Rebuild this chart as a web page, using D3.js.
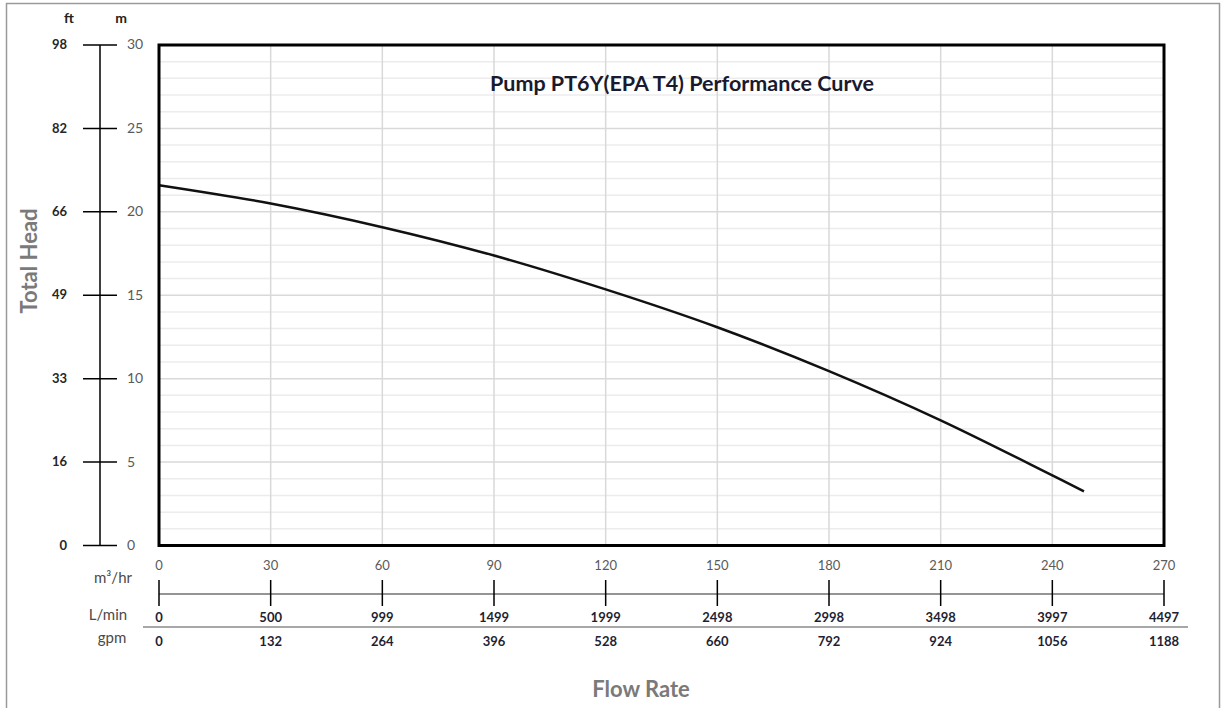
<!DOCTYPE html>
<html>
<head>
<meta charset="utf-8">
<script src="https://cdn.jsdelivr.net/npm/d3@7"></script>
<style>
  body { margin: 0; background: #fff; }
  svg text { font-family: Lato, "Open Sans", sans-serif; }
</style>
</head>
<body>
<div id="container"></div>
<script>
// data
var flowM3h = [0, 30, 60, 90, 120, 150, 180, 210, 240, 248.5];
var headM = [21.6, 20.5, 19.08, 17.38, 15.35, 13.08, 10.45, 7.5, 4.2, 3.25];

var flowTicks = [0, 30, 60, 90, 120, 150, 180, 210, 240, 270];
var lminLabels = ["0", "500", "999", "1499", "1999", "2498", "2998", "3498", "3997", "4497"];
var gpmLabels = ["0", "132", "264", "396", "528", "660", "792", "924", "1056", "1188"];

var headTicks = [0, 5, 10, 15, 20, 25, 30];
var ftLabels = ["0", "16", "33", "49", "66", "82", "98"];

var totalWidth = 1221,
    totalHeight = 708,
    plot = {left: 159, right: 1164, top: 45, bottom: 545.5};

var xScale = d3.scaleLinear().domain([0, 270]).range([plot.left, plot.right]);
var yScale = d3.scaleLinear().domain([0, 30]).range([plot.bottom, plot.top]);

var svg = d3.select("#container")
            .append("svg")
            .attr("width", totalWidth)
            .attr("height", totalHeight);

// outer frame
svg.append("rect")
   .attr("x", 6.5).attr("y", 3.5)
   .attr("width", 1213).attr("height", 720)
   .attr("fill", "none").attr("stroke", "#9a9a9a").attr("stroke-width", 1.5);

// grid
var grid = svg.append("g").attr("class", "grid");
grid.selectAll(".hminor")
    .data(d3.range(1, 30))
    .enter().append("line")
    .attr("x1", plot.left).attr("x2", plot.right)
    .attr("y1", function(d) { return yScale(d); })
    .attr("y2", function(d) { return yScale(d); })
    .attr("stroke", function(d) { return d % 5 === 0 ? "#d9d9d9" : "#ececec"; })
    .attr("stroke-width", 1.5);
grid.selectAll(".vgrid")
    .data(flowTicks.slice(1, -1))
    .enter().append("line")
    .attr("x1", function(d) { return xScale(d); })
    .attr("x2", function(d) { return xScale(d); })
    .attr("y1", plot.top).attr("y2", plot.bottom)
    .attr("stroke", "#d9d9d9").attr("stroke-width", 1.5);

// performance curve
var line = d3.line()
             .x(function(d) { return xScale(d[0]); })
             .y(function(d) { return yScale(d[1]); })
             .curve(d3.curveCatmullRom);
svg.append("path")
   .datum(d3.zip(flowM3h, headM))
   .attr("d", line)
   .attr("fill", "none")
   .attr("stroke", "#111")
   .attr("stroke-width", 2.5);

// plot frame
svg.append("rect")
   .attr("x", plot.left).attr("y", plot.top)
   .attr("width", plot.right - plot.left)
   .attr("height", plot.bottom - plot.top)
   .attr("fill", "none").attr("stroke", "#000").attr("stroke-width", 3);

// title
svg.append("text")
   .attr("x", 682).attr("y", 91)
   .attr("text-anchor", "middle")
   .attr("font-size", 21.5).attr("font-weight", "bold")
   .attr("fill", "#1a1a2e")
   .text("Pump PT6Y(EPA T4) Performance Curve");

// left head axis (ft | m)
var leftAxis = svg.append("g").attr("class", "head-axis");
leftAxis.append("line")
        .attr("x1", 100).attr("x2", 100)
        .attr("y1", yScale(30)).attr("y2", yScale(0))
        .attr("stroke", "#000").attr("stroke-width", 1.5);
var hTick = leftAxis.selectAll(".tick")
        .data(headTicks).enter()
        .append("g").attr("class", "tick")
        .attr("transform", function(d) { return "translate(0," + yScale(d) + ")"; });
hTick.append("line")
     .attr("x1", 83).attr("x2", 117)
     .attr("stroke", "#000").attr("stroke-width", 1.5);
hTick.append("text")
     .attr("x", 127).attr("dy", "0.32em")
     .attr("font-size", 14).attr("fill", "#5a5a5a")
     .text(function(d) { return d; });
hTick.append("text")
     .attr("x", 67).attr("dy", "0.32em")
     .attr("text-anchor", "end")
     .attr("font-size", 13).attr("font-weight", "bold").attr("fill", "#262626")
     .text(function(d, i) { return ftLabels[i]; });
leftAxis.append("text")
        .attr("x", 69).attr("y", 23).attr("text-anchor", "middle")
        .attr("font-size", 14).attr("font-weight", "bold").attr("fill", "#222")
        .text("ft");
leftAxis.append("text")
        .attr("x", 121).attr("y", 23).attr("text-anchor", "middle")
        .attr("font-size", 14).attr("font-weight", "bold").attr("fill", "#222")
        .text("m");
leftAxis.append("text")
        .attr("transform", "translate(37," + 261 + ") rotate(-90)")
        .attr("text-anchor", "middle")
        .attr("font-size", 22).attr("font-weight", "bold").attr("fill", "#7a7a7a")
        .text("Total Head");

// bottom flow axes
var bottom = svg.append("g").attr("class", "flow-axis");
bottom.append("line")
      .attr("x1", xScale(0)).attr("x2", xScale(270))
      .attr("y1", 594).attr("y2", 594)
      .attr("stroke", "#707070").attr("stroke-width", 1.5);
bottom.append("line")
      .attr("x1", 143).attr("x2", 1188)
      .attr("y1", 627).attr("y2", 627)
      .attr("stroke", "#8a8a8a").attr("stroke-width", 1.5);
var fTick = bottom.selectAll(".tick")
      .data(flowTicks).enter()
      .append("g").attr("class", "tick")
      .attr("transform", function(d) { return "translate(" + xScale(d) + ",0)"; });
fTick.append("line")
     .attr("y1", 580).attr("y2", 606)
     .attr("stroke", "#000").attr("stroke-width", 1.5);
fTick.append("text")
     .attr("y", 570).attr("text-anchor", "middle")
     .attr("font-size", 13).attr("fill", "#5a5a5a")
     .text(function(d) { return d; });
fTick.append("text")
     .attr("y", 622).attr("text-anchor", "middle")
     .attr("font-size", 13).attr("font-weight", "bold").attr("fill", "#1f1f33")
     .text(function(d, i) { return lminLabels[i]; });
fTick.append("text")
     .attr("y", 646).attr("text-anchor", "middle")
     .attr("font-size", 13).attr("font-weight", "bold").attr("fill", "#1f1f33")
     .text(function(d, i) { return gpmLabels[i]; });

bottom.append("text")
      .attr("x", 113).attr("y", 583).attr("text-anchor", "middle")
      .attr("font-size", 15).attr("fill", "#4a4a4a")
      .text("m³/hr");
bottom.append("text")
      .attr("x", 108).attr("y", 620).attr("text-anchor", "middle")
      .attr("font-size", 15).attr("fill", "#4a4a4a")
      .text("L/min");
bottom.append("text")
      .attr("x", 112).attr("y", 643).attr("text-anchor", "middle")
      .attr("font-size", 15).attr("fill", "#4a4a4a")
      .text("gpm");
bottom.append("text")
      .attr("x", 641).attr("y", 697).attr("text-anchor", "middle")
      .attr("font-size", 22).attr("font-weight", "bold").attr("fill", "#7a7a7a")
      .text("Flow Rate");
</script>
</body>
</html>
